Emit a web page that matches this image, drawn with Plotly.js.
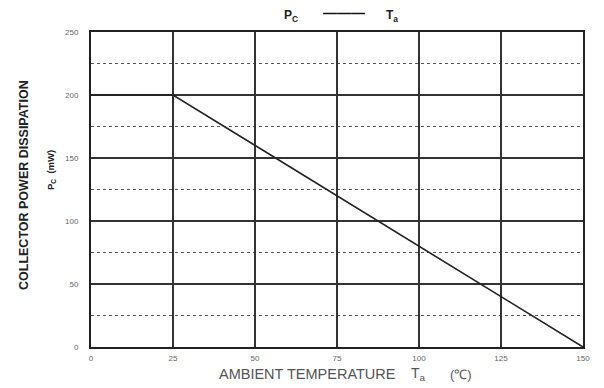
<!DOCTYPE html>
<html><head><meta charset="utf-8">
<script src="https://cdn.plot.ly/plotly-3.0.1.min.js"></script>
<style>html,body{margin:0;padding:0;background:#fff}</style>
</head><body>
<div id="chart" style="width:604px;height:388px"></div>
<script>
const tempC = [0, 25, 150];
const powerMW = [200, 200, 0];
const xTicks = [0, 25, 50, 75, 100, 125, 150];
const yTicks = [0, 50, 100, 150, 200, 250];

const font = 'Liberation Sans, Arial, sans-serif';
const trace = {
  x: tempC, y: powerMW, type: 'scatter', mode: 'lines',
  line: {color: '#222', width: 1.6}, hoverinfo: 'skip', showlegend: false
};
function ann(text, x, y, xshift, yshift, size, color, angle) {
  return {text: text, xref: 'paper', yref: 'paper', x: x, y: y, xshift: xshift, yshift: yshift,
    xanchor: 'center', yanchor: 'middle', textangle: angle || 0, showarrow: false,
    font: {size: size, color: color, family: font}};
}
const layout = {
  width: 604, height: 388,
  margin: {l: 91, r: 21, t: 32, b: 41},
  paper_bgcolor: '#fff', plot_bgcolor: '#fff',
  font: {family: font, color: '#444', size: 8},
  xaxis: {
    range: [0, 150], tickvals: xTicks, ticktext: xTicks.map(String),
    showgrid: true, gridcolor: '#333', gridwidth: 1.8,
    showline: true, linecolor: '#222', linewidth: 2, mirror: true,
    zeroline: false, ticks: '', ticklabelstandoff: 2, tickfont: {size: 8, color: '#666'},
    fixedrange: true
  },
  yaxis: {
    range: [0, 250], tickvals: yTicks, ticktext: yTicks.map(String),
    showgrid: true, gridcolor: '#333', gridwidth: 1.8,
    minor: {dtick: 25, tick0: 0, showgrid: true, gridcolor: '#555', gridwidth: 1, griddash: 'dot'},
    showline: true, linecolor: '#222', linewidth: 2, mirror: true,
    zeroline: false, ticks: '', ticklabelstandoff: 9, tickfont: {size: 8, color: '#666'},
    fixedrange: true
  },
  annotations: [
    // chart title: P_C —— T_a
    ann('<b>P<sub>C</sub></b>', 0, 1, 291 - 91, 16, 12, '#222'),
    ann('<b>———</b>', 0, 1, 344 - 91, 19, 14, '#111'),
    ann('<b>T<sub>a</sub></b>', 0, 1, 392 - 91, 16, 12, '#222'),
    // x axis title
    ann('AMBIENT TEMPERATURE', 0, 0, 307 - 91, -27, 14.5, '#555'),
    ann('T<sub>a</sub>', 0, 0, 418 - 91, -27, 14, '#555'),
    ann('(℃)', 0, 0, 461 - 91, -27, 13, '#555'),
    // y axis title
    ann('<b>COLLECTOR POWER DISSIPATION</b>', 0, 0.5, 24 - 91, 4.5, 12.5, '#222', -90),
    ann('<b>P<sub>C</sub>  (mW)</b>', 0, 0.5, 51 - 91, 19.5, 9.5, '#222', -90)
  ]
};
Plotly.newPlot('chart', [trace], layout, {displayModeBar: false, staticPlot: true});
</script>
</body></html>
